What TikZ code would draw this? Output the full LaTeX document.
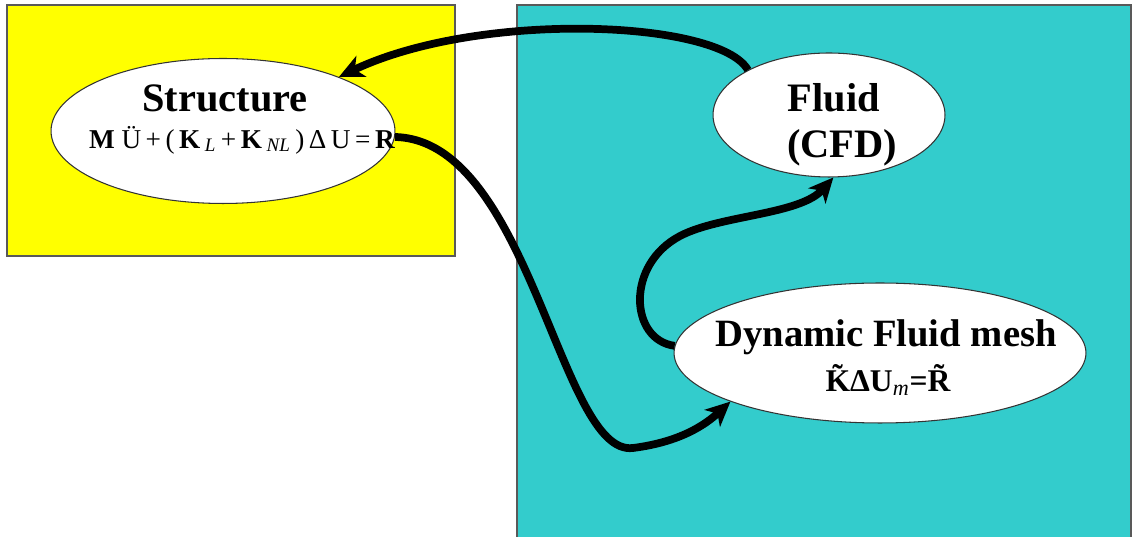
\documentclass[tikz,border=0pt]{standalone}
\usepackage{fontspec}
\setmainfont{Liberation Serif}
\usetikzlibrary{arrows.meta, positioning, shapes.geometric}
\definecolor{zoneyellow}{RGB}{255,255,0}
\definecolor{zoneteal}{RGB}{51,204,204}
\definecolor{rimgray}{gray}{0.35}

\tikzset{
	zone/.style={draw=rimgray, line width=1pt},
	blob/.style={ellipse, draw=black!80, line width=0.6pt, fill=white, inner sep=0pt},
	title/.style={font=\fontsize{23}{25}\selectfont\bfseries, inner sep=0pt},
	eqn/.style={font=\fontsize{15.5}{17}\selectfont, inner sep=0pt},
	link/.style={line width=4.4pt, -{Stealth[length=14pt, width=13pt, inset=4pt]}},
}

\begin{document}
\begin{tikzpicture}[x=0.02cm, y=0.02cm]

\clip (0,0) rectangle (1136,537); % page frame
\fill[white] (0,0) rectangle (1136,537);

\draw[zone, fill=zoneyellow] (7,281) rectangle (455,532); % structure side
\draw[rimgray, line width=1.6pt] (8,281) -- (455,281) -- (455,531); % shadow edge
\draw[zone, fill=zoneteal] (517,-10) rectangle (1131,532); % fluid side

\node[blob, minimum width=6.88cm, minimum height=2.9cm]  (struct) at (223,406) {};
\node[blob, minimum width=4.64cm, minimum height=2.48cm] (fluid)  at (829,422) {};
\node[blob, minimum width=8.24cm, minimum height=2.8cm]  (mesh)   at (880,184) {};

\node[title] (struct title) at (225,439) {Structure};
\node[eqn]   (struct eq)    at (242,397) {\textbf{M}\ Ü\,+\,(\,\textbf{K}\,\textsubscript{\textit{L}}\,+\,\textbf{K}\,\textsubscript{\textit{NL}}\,)\,Δ\,U\,=\,\textbf{R}};
\node[title] (fluid title)  at (834,439) {Fluid};
\node[title] (fluid cfd)    at (842,389) {(CFD)};
\node[title, font=\fontsize{22}{24}\selectfont\bfseries] (mesh title) at (886,200) {Dynamic Fluid mesh};
\node[eqn, font=\fontsize{18}{20}\selectfont\bfseries] (mesh eq) at (888,157) {\~{K}ΔU\textsubscript{\textit{\mdseries m}}=\~{R}};

\draw[link] (fluid.151) .. controls (720,517) and (480,527) .. (struct.25); % loads back
\draw[link] (struct.-2) .. controls (530,397) and (560,80) .. (633,89)
	.. controls (680,95) and (705,112) .. (mesh.198); % displacements
\draw[link] (mesh.178) .. controls (630,197) and (625,272) .. (680,301)
	.. controls (720,322) and (800,322) .. (fluid.-86); % moved mesh

\end{tikzpicture}
\end{document}
